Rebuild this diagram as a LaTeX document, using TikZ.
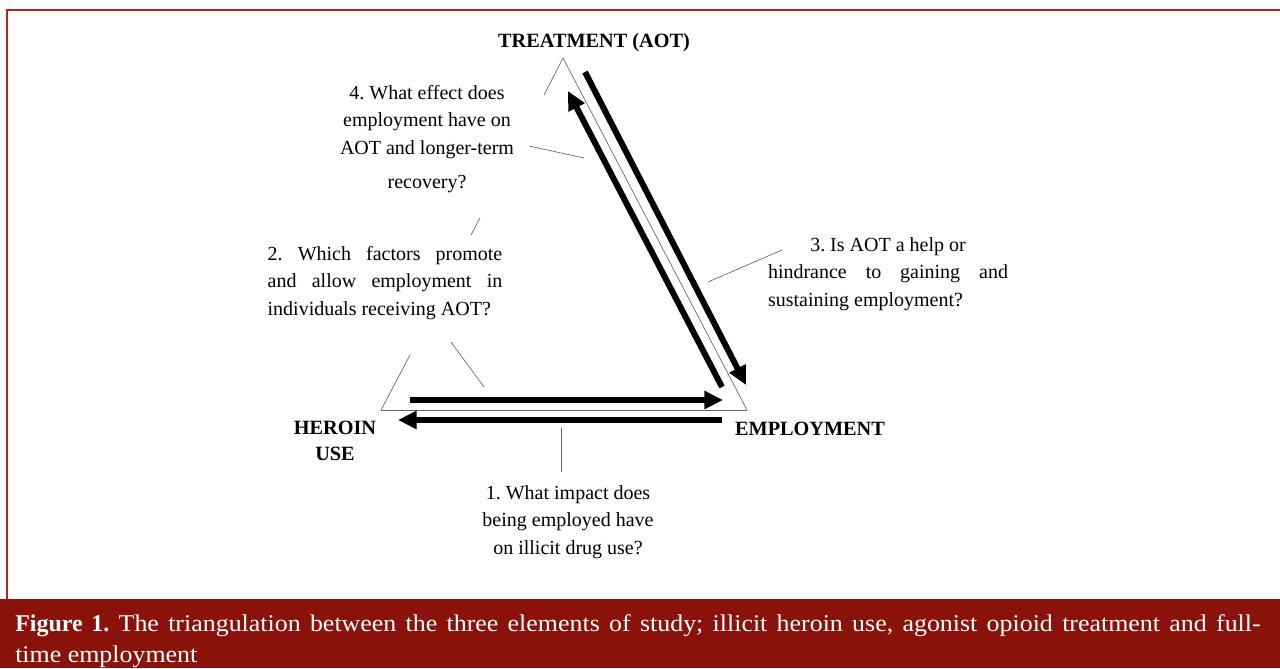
\documentclass[tikz,border=0pt]{standalone}
\usepackage{fontspec}
\setmainfont{Liberation Serif}
\newfontfamily\capfont[FakeStretch=1.08,BoldFeatures={FakeStretch=1.0}]{Liberation Serif}
\usetikzlibrary{arrows.meta}
\definecolor{framered}{RGB}{180,36,26}
\definecolor{capred}{RGB}{139,18,10}
\frenchspacing

\begin{document}
\begin{tikzpicture}[x=0.75pt,y=-0.75pt,>={Triangle[length=14pt,width=13pt]}]
\tikzstyle{lead}=[draw=gray!80!black,line width=0.5pt]
\tikzstyle{big}=[->,line width=4.5pt]
\tikzstyle{lbl}=[font=\fontsize{15.2}{19}\selectfont\bfseries,inner sep=0pt]
\tikzstyle{qst}=[font=\fontsize{15}{20.5}\selectfont,inner sep=0pt]

\useasboundingbox (0,0) rectangle (1280,668);
\fill[capred] (0,599) rectangle (1280,668);
\draw[framered,line width=1.2pt] (7,599) -- (7,10) -- (1280,10);

\coordinate (T) at (563,58);
\coordinate (H) at (381,410);
\coordinate (E) at (747,410);
\coordinate (HT1) at (544,95);
\coordinate (HT2) at (410,355);

\node[lbl] (TR) at (594,43) {TREATMENT (AOT)};
\node[lbl,align=center] (HU) at (335,441) {HEROIN\\USE};
\node[lbl] (EM) at (810,429) {EMPLOYMENT};

\node[qst,align=center] (Q4) at (427,139)
  {4. What effect does\\employment have on\\AOT and longer-term\\[5pt]recovery?};
\node[qst,text width=176pt,align=justify] (Q2) at (385,283)
  {2. Which factors promote\linebreak and allow employment in\linebreak individuals receiving AOT?};
\node[qst,text width=180pt,align=justify] (Q3) at (888,274)
  {\hspace*{\fill}3. Is AOT a help or\hspace*{\fill}\\hindrance to gaining and\linebreak sustaining employment?};
\node[qst,align=center] (Q1) at (568,522)
  {1. What impact does\\being employed have\\on illicit drug use?};

\node[text=white,font=\capfont\fontsize{18}{23.25}\selectfont,text width=934pt,align=justify,
  inner sep=0pt,anchor=north west] (CAP) at (15,614)
  {\textbf{Figure 1.} The triangulation between the three elements of study; illicit heroin use, agonist opioid treatment and full-\linebreak time employment};

\path[lead] (T) edge (E);
\path[lead] (H) edge (E);
\path[lead] (T) edge (HT1);
\path[lead] (H) edge (HT2);

\coordinate (A1) at (585,72);
\coordinate (A2) at (746,385);
\coordinate (B1) at (722,387);
\coordinate (B2) at (568,91);
\coordinate (C1) at (410,400);
\coordinate (C2) at (723,400);
\coordinate (D1) at (722,420);
\coordinate (D2) at (398,420);
\path[big] (A1) edge (A2);
\path[big] (B1) edge (B2);
\path[big] (C1) edge (C2);
\path[big] (D1) edge (D2);

\coordinate (L4a) at (529,146);
\coordinate (L4b) at (584,158);
\coordinate (L2a) at (480,218);
\coordinate (L2b) at (471,235);
\coordinate (L2c) at (451,342);
\coordinate (L2d) at (484,387);
\coordinate (L3a) at (708,282);
\coordinate (L3b) at (782,250);
\coordinate (L1a) at (561,428);
\coordinate (L1b) at (561,472);
\path[lead] (L4a) edge (L4b);
\path[lead] (L2a) edge (L2b);
\path[lead] (L2c) edge (L2d);
\path[lead] (L3a) edge (L3b);
\path[lead] (L1a) edge (L1b);

\end{tikzpicture}
\end{document}
